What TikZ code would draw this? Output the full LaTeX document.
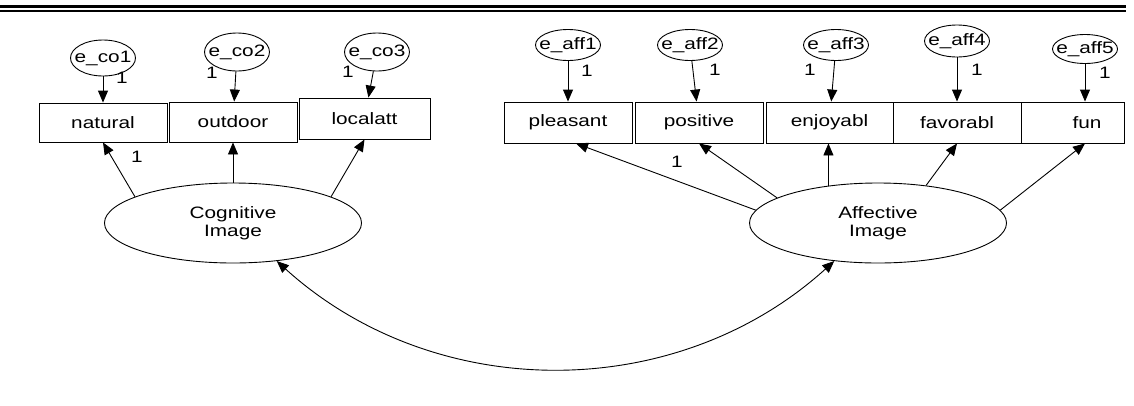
\documentclass[tikz,border=0pt]{standalone}
\usepackage{fontspec}
\setmainfont{Liberation Sans}[FakeStretch=1.26]
\usetikzlibrary{arrows.meta,shapes.geometric}
\begin{document}
\begin{tikzpicture}[x=1pt,y=-1pt,line width=0.9pt,
  font=\fontsize{16.5}{17.5}\selectfont,
  obs/.style={draw, rectangle, inner sep=0pt, minimum height=40pt},
  err/.style={draw, ellipse, inner sep=0pt, minimum width=65pt, minimum height=34pt},
  lat/.style={draw, ellipse, inner sep=0pt, minimum width=257pt, minimum height=80pt, align=center},
  reg/.style={-{Triangle[length=12pt,width=10pt]}},
  cov/.style={{Triangle[length=12pt,width=10pt]}-{Triangle[length=12pt,width=10pt]}},
  one/.style={inner sep=0pt}
]
\useasboundingbox (0,0) rectangle (1134,405);

% double rule along the top
\draw[line width=3pt] (0,6.3) -- (1126,6.3);
\draw[line width=1.8pt] (0,11) -- (1126,11);

% observed indicators
\node[obs, minimum width=128pt, minimum height=39pt] (natural) at (103,122.5) {natural};
\node[obs, minimum width=128pt] (outdoor) at (233,122) {outdoor};
\node[obs, minimum width=131pt, minimum height=41pt] (localatt) at (364.5,118.5) {localatt};
\node[obs, minimum width=128pt, minimum height=41pt] (pleasant) at (568,122.5) {pleasant};
\node[obs, minimum width=128pt, minimum height=41pt] (positive) at (699,122.5) {positive};
\node[obs, minimum width=127pt, minimum height=41pt] (enjoyabl) at (829.5,122.5) {enjoyabl};
\node[obs, minimum width=128pt, minimum height=41pt] (favorabl) at (957,122.5) {favorabl};
\node[obs, minimum width=103pt, minimum height=41pt] (fun) at (1072.5,122.5) {\hspace*{29pt}fun};

% error terms (labels may run up to the outline)
\node[err, minimum height=36pt] (eco1) at (103,58) {\makebox[0pt]{e\_co1}};
\node[err, minimum height=38pt] (eco2) at (237,52) {\makebox[0pt]{e\_co2}};
\node[err, minimum height=38pt] (eco3) at (377,52) {\makebox[0pt]{e\_co3}};
\node[err, minimum height=31pt] (eaff1) at (568,45) {\makebox[0pt]{e\_aff1}};
\node[err, minimum height=31pt] (eaff2) at (690,45) {\makebox[0pt]{e\_aff2}};
\node[err, minimum height=31pt] (eaff3) at (836,45) {\makebox[0pt]{e\_aff3}};
\node[err, minimum height=32pt] (eaff4) at (957,41) {\makebox[0pt]{e\_aff4}};
\node[err, minimum height=29pt] (eaff5) at (1085,49) {\makebox[0pt]{e\_aff5}};

% latent factors
\node[lat] (cog) at (233,223) {Cognitive\\Image};
\node[lat] (aff) at (878,223) {Affective\\Image};

% error paths
\draw[reg] (eco1) -- (eco1 |- natural.north);
\draw[reg] (eco2) -- (outdoor);
\draw[reg] (eco3) -- (localatt);
\draw[reg] (eaff1) -- (eaff1 |- pleasant.north);
\draw[reg] (eaff2) -- (positive);
\draw[reg] (eaff3) -- (enjoyabl);
\draw[reg] (eaff4) -- (eaff4 |- favorabl.north);
\draw[reg] (eaff5) -- (eaff5 |- fun.north);

% factor loadings
\draw[reg] (cog.165) -- (natural.south);
\draw[reg] (cog.north) -- (outdoor.south);
\draw[reg] (cog.15) -- (localatt.south);
\draw[reg] (aff.174) -- ([xshift=8pt]pleasant.south);
\draw[reg] (aff.166) -- (positive.south);
\draw[reg] (aff.143) -- (aff.143 |- enjoyabl.south);
\draw[reg] (aff.38) -- (favorabl.south);
\draw[reg] (aff.6) -- (eaff5 |- fun.south);

% factor covariance
\draw[cov] (cog.-41) .. controls +(158,143) and +(-158,143) .. (aff.-139);

% fixed coefficients
\node[one] (w1) at (122,78) {1};
\node[one] (w2) at (212,73) {1};
\node[one] (w3) at (348,72) {1};
\node[one] (w4) at (137,157) {1};
\node[one] (w5) at (587,71) {1};
\node[one] (w6) at (715,70) {1};
\node[one] (w7) at (810,70) {1};
\node[one] (w8) at (977,70) {1};
\node[one] (w9) at (1105,73) {1};
\node[one] (w10) at (677,162) {1};
\end{tikzpicture}
\end{document}
